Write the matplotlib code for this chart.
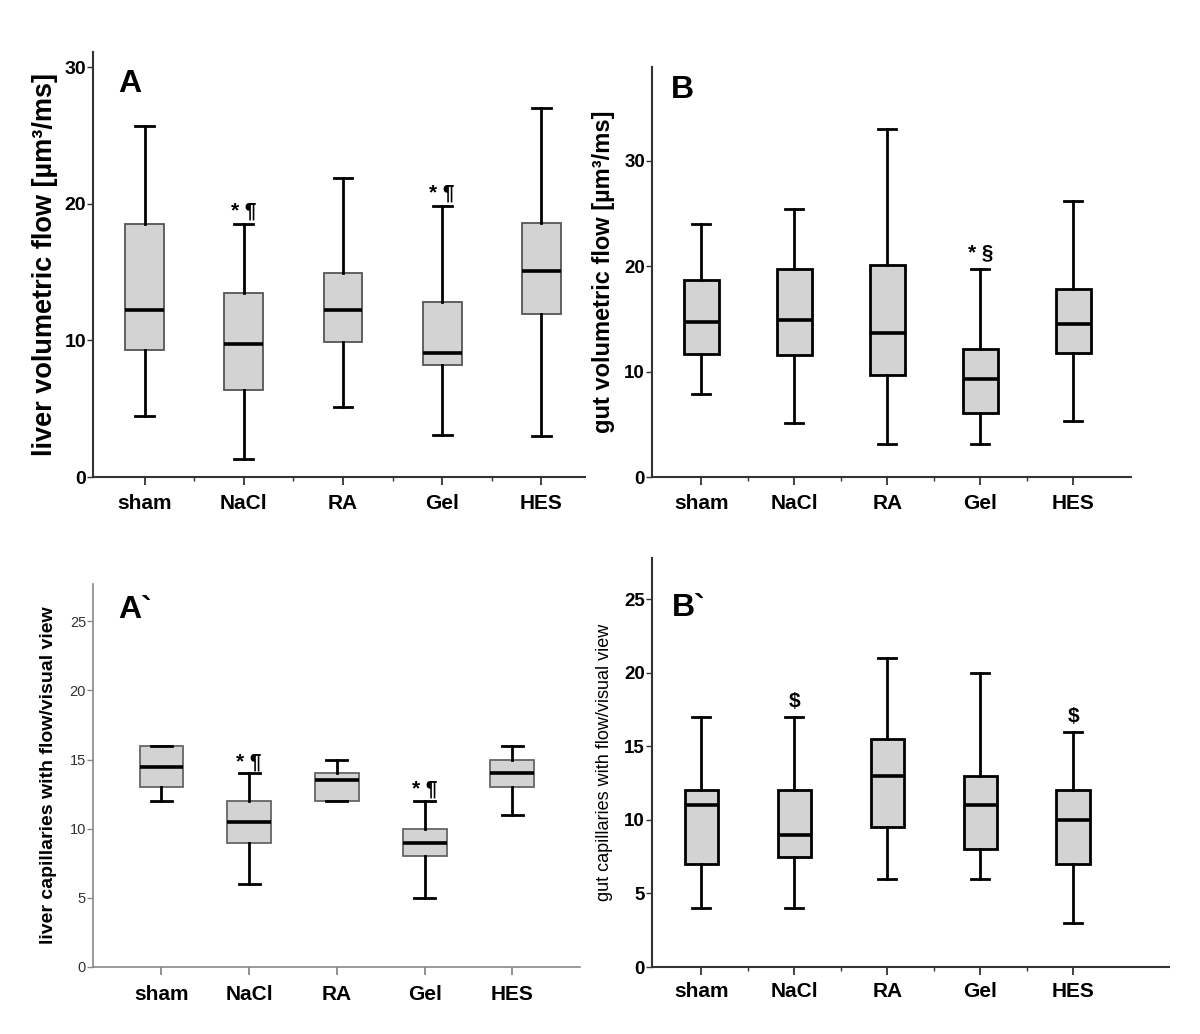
import matplotlib
matplotlib.use("Agg")
import matplotlib.pyplot as plt
from matplotlib.ticker import FixedLocator

plt.rcParams['font.family'] = ['Liberation Sans', 'DejaVu Sans']

categories = ["sham", "NaCl", "RA", "Gel", "HES"]

# Panel A: liver volumetric flow
A_lo  = [4.5, 1.3, 5.1, 3.1, 3.0]
A_q1  = [9.3, 6.4, 9.9, 8.2, 11.9]
A_med = [12.2, 9.7, 12.2, 9.1, 15.1]
A_q3  = [18.5, 13.5, 14.9, 12.8, 18.6]
A_hi  = [25.7, 18.5, 21.9, 19.8, 27.0]
A_marks = ["", "* ¶", "", "* ¶", ""]

# Panel B: gut volumetric flow
B_lo  = [7.9, 5.1, 3.1, 3.15, 5.3]
B_q1  = [11.7, 11.6, 9.7, 6.1, 11.8]
B_med = [14.7, 14.9, 13.7, 9.3, 14.5]
B_q3  = [18.7, 19.7, 20.1, 12.1, 17.8]
B_hi  = [24.0, 25.4, 33.0, 19.75, 26.2]
B_marks = ["", "", "", "* §", ""]

# Panel A`: liver capillaries with flow
Ap_lo  = [12, 6, 12, 5, 11]
Ap_q1  = [13, 9, 12, 8, 13]
Ap_med = [14.5, 10.5, 13.5, 9, 14]
Ap_q3  = [16, 12, 14, 10, 15]
Ap_hi  = [16, 14, 15, 12, 16]
Ap_marks = ["", "* ¶", "", "* ¶", ""]

# Panel B`: gut capillaries with flow
Bp_lo  = [4, 4, 6, 6, 3]
Bp_q1  = [7, 7.5, 9.5, 8, 7]
Bp_med = [11, 9, 13, 11, 10]
Bp_q3  = [12, 12, 15.5, 13, 12]
Bp_hi  = [17, 17, 21, 20, 16]
Bp_marks = ["", "$", "", "", "$"]

W, H = 1200, 1034
fig = plt.figure(figsize=(W / 100, H / 100), dpi=100)


def px_axes(left, top, right, bottom):
    return fig.add_axes([left / W, 1 - bottom / H, (right - left) / W, (bottom - top) / H])


def stats(lo, q1, med, q3, hi):
    return [dict(whislo=a, q1=b, med=c, q3=d, whishi=e, fliers=[])
            for a, b, c, d, e in zip(lo, q1, med, q3, hi)]


NARROW = ['Liberation Sans Narrow', 'Liberation Sans', 'DejaVu Sans']
FILL = '#d3d3d3'


def panel(ax, st, marks, ylim, yticks, xlim, letter, letter_pos, ylabel, ylabel_size,
          ylabel_weight, box_w, cap_w, box_edge, box_lw, axis_color, axis_lw,
          tick_bold, tick_size, minor, ylabel_x, mark_off, xpad):
    pos = list(range(len(categories)))
    ax.bxp(st, positions=pos, widths=box_w, patch_artist=True, showfliers=False,
           capwidths=cap_w,
           boxprops=dict(facecolor=FILL, edgecolor=box_edge, linewidth=box_lw),
           medianprops=dict(color='black', linewidth=2.6),
           whiskerprops=dict(color='black', linewidth=2.0),
           capprops=dict(color='black', linewidth=2.0))
    ax.set_xlim(*xlim)
    ax.set_ylim(*ylim)
    for s in ['top', 'right']:
        ax.spines[s].set_visible(False)
    for s in ['left', 'bottom']:
        ax.spines[s].set_color(axis_color)
        ax.spines[s].set_linewidth(axis_lw)
    ax.set_xticks(pos)
    ax.set_xticklabels(categories, fontsize=15, fontweight='bold')
    ax.set_yticks(yticks)
    if tick_bold:
        ax.set_yticklabels([str(t) for t in yticks], fontsize=tick_size,
                           fontweight='bold', family=NARROW)
    else:
        ax.set_yticklabels([str(t) for t in yticks], fontsize=tick_size,
                           color='#333333')
    ax.tick_params(axis='x', length=6, width=1.3, color=axis_color, pad=xpad)
    ax.tick_params(axis='y', length=4, width=1.0, color=axis_color, pad=1)
    if minor:
        ax.xaxis.set_minor_locator(FixedLocator([p + 0.5 for p in pos[:-1]]))
        ax.tick_params(axis='x', which='minor', length=3, width=1.0, color=axis_color)
    ax.text(letter_pos[0], letter_pos[1], letter, transform=ax.transAxes, fontsize=23,
            fontweight='bold', va='top', ha='left')
    ax.set_ylabel(ylabel, fontsize=ylabel_size, fontweight=ylabel_weight)
    ax.yaxis.set_label_coords(ylabel_x, 0.5)
    for p, m, d in zip(pos, marks, st):
        if m:
            ax.text(p, d['whishi'] + mark_off, m, ha='center', va='bottom',
                    fontsize=15, fontweight='bold')


# Panel A
axA = px_axes(93, 52, 585, 477)
panel(axA, stats(A_lo, A_q1, A_med, A_q3, A_hi), A_marks, (0, 31.1), [0, 10, 20, 30],
      (-0.52, 4.44), "A", (0.052, 0.96), "liver volumetric flow [µm³/ms]", 19.5, 'bold',
      0.39, 0.19, '#555555', 1.3, '#333333', 1.5, True, 14, True, -0.071, 0.3, 6.5)

# Panel B
axB = px_axes(652, 67, 1131, 477)
panel(axB, stats(B_lo, B_q1, B_med, B_q3, B_hi), B_marks, (0, 38.9), [0, 10, 20, 30],
      (-0.53, 4.62), "B", (0.040, 0.98), "gut volumetric flow [µm³/ms]", 17, 'bold',
      0.38, 0.19, 'black', 2.0, '#333333', 1.5, True, 13.5, True, -0.077, 0.6, 6.5)

# Panel A`
axAp = px_axes(93, 584, 580, 967)
panel(axAp, stats(Ap_lo, Ap_q1, Ap_med, Ap_q3, Ap_hi), Ap_marks, (0, 27.7),
      [0, 5, 10, 15, 20, 25], (-0.78, 4.77), "A`", (0.052, 0.97),
      "liver capillaries with flow/visual view", 14, 'bold',
      0.5, 0.24, '#666666', 1.3, '#888888', 1.2, False, 10.5, False, -0.074, 0.15, 7)

# Panel B`
axBp = px_axes(652, 558, 1169, 967)
panel(axBp, stats(Bp_lo, Bp_q1, Bp_med, Bp_q3, Bp_hi), Bp_marks, (0, 27.8),
      [0, 5, 10, 15, 20, 25], (-0.53, 5.03), "B`", (0.038, 0.915),
      "gut capillaries with flow/visual view", 13, 'normal',
      0.36, 0.19, 'black', 2.0, '#333333', 1.5, True, 13.5, True, -0.075, 0.4, 5)

fig.savefig("out.png", dpi=100, facecolor='white')
